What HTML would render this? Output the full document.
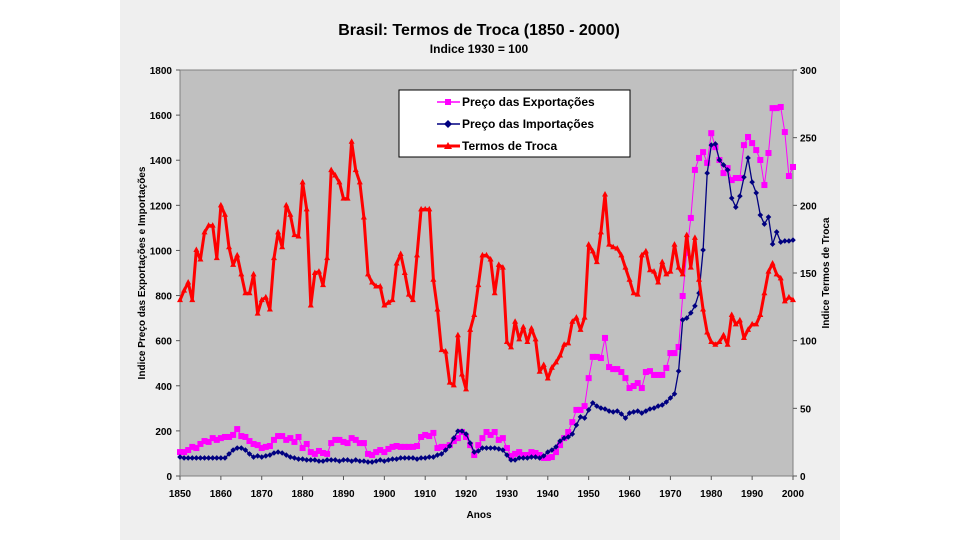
<!DOCTYPE html>
<html><head><meta charset="utf-8"><style>
body{margin:0;background:#fff;font-family:"Liberation Sans",sans-serif}
svg{display:block}
text{font-family:"Liberation Sans",sans-serif;font-weight:bold}
</style></head><body>
<svg id="c" width="960" height="540">
<rect x="120" y="0" width="720" height="540" fill="#efefef"/>
<text x="479" y="35" font-size="16" text-anchor="middle">Brasil: Termos de Troca (1850 - 2000)</text>
<text x="479" y="53" font-size="12" text-anchor="middle">Indice 1930 = 100</text>
<rect x="180" y="70" width="613" height="406" fill="#c0c0c0" stroke="#808080"/>
<g id="axes"></g>
<g id="series"></g>
<text x="479" y="518" font-size="10" text-anchor="middle">Anos</text>
<text transform="translate(145,273) rotate(-90)" font-size="10" text-anchor="middle">Indice Preço das Exportações e Importações</text>
<text transform="translate(829,273) rotate(-90)" font-size="10" text-anchor="middle">Indice Termos de Troca</text>
<g>
<rect x="399" y="90" width="231" height="67" fill="#fff" stroke="#000"/>
<g><line x1="437" y1="102" x2="460" y2="102" stroke="#ff00ff" stroke-width="1.5"/><rect x="445" y="99" width="6" height="6" fill="#ff00ff"/><text x="462" y="106" font-size="12">Preço das Exportações</text></g>
<g><line x1="437" y1="124" x2="460" y2="124" stroke="#000080" stroke-width="1.5"/><path d="M448,120L452,124L448,128L444,124Z" fill="#000080"/><text x="462" y="128" font-size="12">Preço das Importações</text></g>
<g><line x1="437" y1="146" x2="460" y2="146" stroke="#ff0000" stroke-width="3"/><path d="M448,142L452,149L444,149Z" fill="#ff0000"/><text x="462" y="150" font-size="12">Termos de Troca</text></g>
</g>
</svg>
<script>
const startYear = 1850;
const xTicks = [1850,1860,1870,1880,1890,1900,1910,1920,1930,1940,1950,1960,1970,1980,1990,2000];
const leftTicks = [0,200,400,600,800,1000,1200,1400,1600,1800];
const rightTicks = [0,50,100,150,200,250,300];
const exportsIdx = [106,106,115,129,124,142,155,151,168,160,168,173,173,182,208,177,173,155,142,137,124,129,133,160,177,177,160,168,151,173,124,142,106,98,111,102,98,146,160,160,151,146,168,160,146,146,98,93,106,115,106,120,129,133,129,129,129,129,133,173,182,177,191,124,129,129,137,155,168,195,173,137,93,137,168,195,182,195,160,168,124,89,98,106,93,93,106,102,93,80,80,84,106,137,168,195,239,293,293,310,434,528,528,523,612,483,474,474,461,434,390,399,412,390,461,465,448,448,448,479,545,545,572,798,989,1144,1357,1410,1436,1388,1520,1458,1401,1343,1365,1312,1321,1321,1467,1503,1476,1445,1401,1290,1432,1631,1631,1636,1525,1330,1370];
const importsIdx = [84,80,80,80,80,80,80,80,80,80,80,80,98,115,124,124,115,98,84,89,84,89,93,102,106,102,93,84,80,75,75,71,71,71,66,66,71,71,71,66,71,71,66,71,66,66,62,62,66,71,66,71,75,75,80,80,80,80,75,80,80,84,84,93,98,115,133,168,199,199,186,146,106,111,124,124,124,124,120,115,93,71,71,80,80,80,84,84,80,89,106,115,129,155,168,173,186,226,262,257,293,324,310,301,297,288,284,288,275,257,279,284,288,279,288,297,301,310,315,328,346,364,465,692,700,723,754,811,1002,1343,1467,1472,1401,1379,1357,1232,1192,1241,1325,1410,1303,1255,1157,1117,1148,1028,1082,1037,1042,1042,1046];
const termsIdx = [130,137,143,130,167,160,180,185,185,161,200,193,169,156,163,149,135,135,149,120,130,132,123,161,180,169,200,193,178,177,217,197,126,150,151,141,161,226,222,217,205,205,247,226,217,191,149,143,140,140,126,128,130,157,164,150,134,130,163,197,197,197,145,123,93,92,69,67,104,75,64,108,119,141,163,163,160,135,156,154,99,95,114,101,110,99,109,101,77,82,72,80,84,89,97,98,114,117,108,117,171,166,158,180,208,171,169,168,163,154,145,135,134,163,166,152,151,143,158,149,151,171,154,149,178,154,176,145,123,106,99,97,99,104,97,119,112,115,102,108,112,112,119,135,151,157,149,146,129,132,130];

const NS='http://www.w3.org/2000/svg';
const X0=180,X1=793,Y0=476,Y1=70;
const xs=yr=>X0+(yr-1850)/150*(X1-X0);
const yl=v=>Y0-v/1800*(Y0-Y1);
const yr=v=>Y0-v/300*(Y0-Y1);
function mk(tag,attrs,parent){const e=document.createElementNS(NS,tag);for(const k in attrs)e.setAttribute(k,attrs[k]);parent.appendChild(e);return e;}
const ax=document.getElementById('axes');
xTicks.forEach(t=>{
  mk('line',{x1:xs(t),x2:xs(t),y1:Y0,y2:Y0+4,stroke:'#555'},ax);
  const tx=mk('text',{x:xs(t),y:Y0+21,'font-size':10,'text-anchor':'middle'},ax);tx.textContent=t;
  
  
});
leftTicks.forEach(t=>{
  mk('line',{x1:X0-4,x2:X0,y1:yl(t),y2:yl(t),stroke:'#555'},ax);
  const tx=mk('text',{x:172,y:yl(t)+4,'font-size':10,'text-anchor':'end'},ax);tx.textContent=t;
  
  
});
rightTicks.forEach(t=>{
  mk('line',{x1:X1,x2:X1+4,y1:yr(t),y2:yr(t),stroke:'#555'},ax);
  const tx=mk('text',{x:800,y:yr(t)+4,'font-size':10,'text-anchor':'start'},ax);tx.textContent=t;
  
  
});
const sg=document.getElementById('series');
function series(arr,yf,color,w,marker,name){
  const g=mk('g',{},sg);
  
  
  const pts=arr.map((v,i)=>[xs(startYear+i),yf(v)]);
  mk('polyline',{points:pts.map(p=>p.map(n=>n.toFixed(1)).join(',')).join(' '),fill:'none',stroke:color,'stroke-width':w,'stroke-linejoin':'round'},g);
  pts.forEach(([x,y])=>{
    let m;
    if(marker==='sq')m=mk('rect',{x:x-3,y:y-3,width:6,height:6,fill:color},g);
    else if(marker==='dia')m=mk('path',{d:`M${x},${y-2.8}L${x+2.8},${y}L${x},${y+2.8}L${x-2.8},${y}Z`,fill:color},g);
    else m=mk('path',{d:`M${x},${y-3.5}L${x+3},${y+2}L${x-3},${y+2}Z`,fill:color},g);
    
    
  });
}
series(exportsIdx,yl,'#ff00ff',1,'sq','exports-series');
series(importsIdx,yl,'#000080',1.3,'dia','imports-series');
series(termsIdx,yr,'#ff0000',3,'tri','terms-series');
</script>
</body></html>
